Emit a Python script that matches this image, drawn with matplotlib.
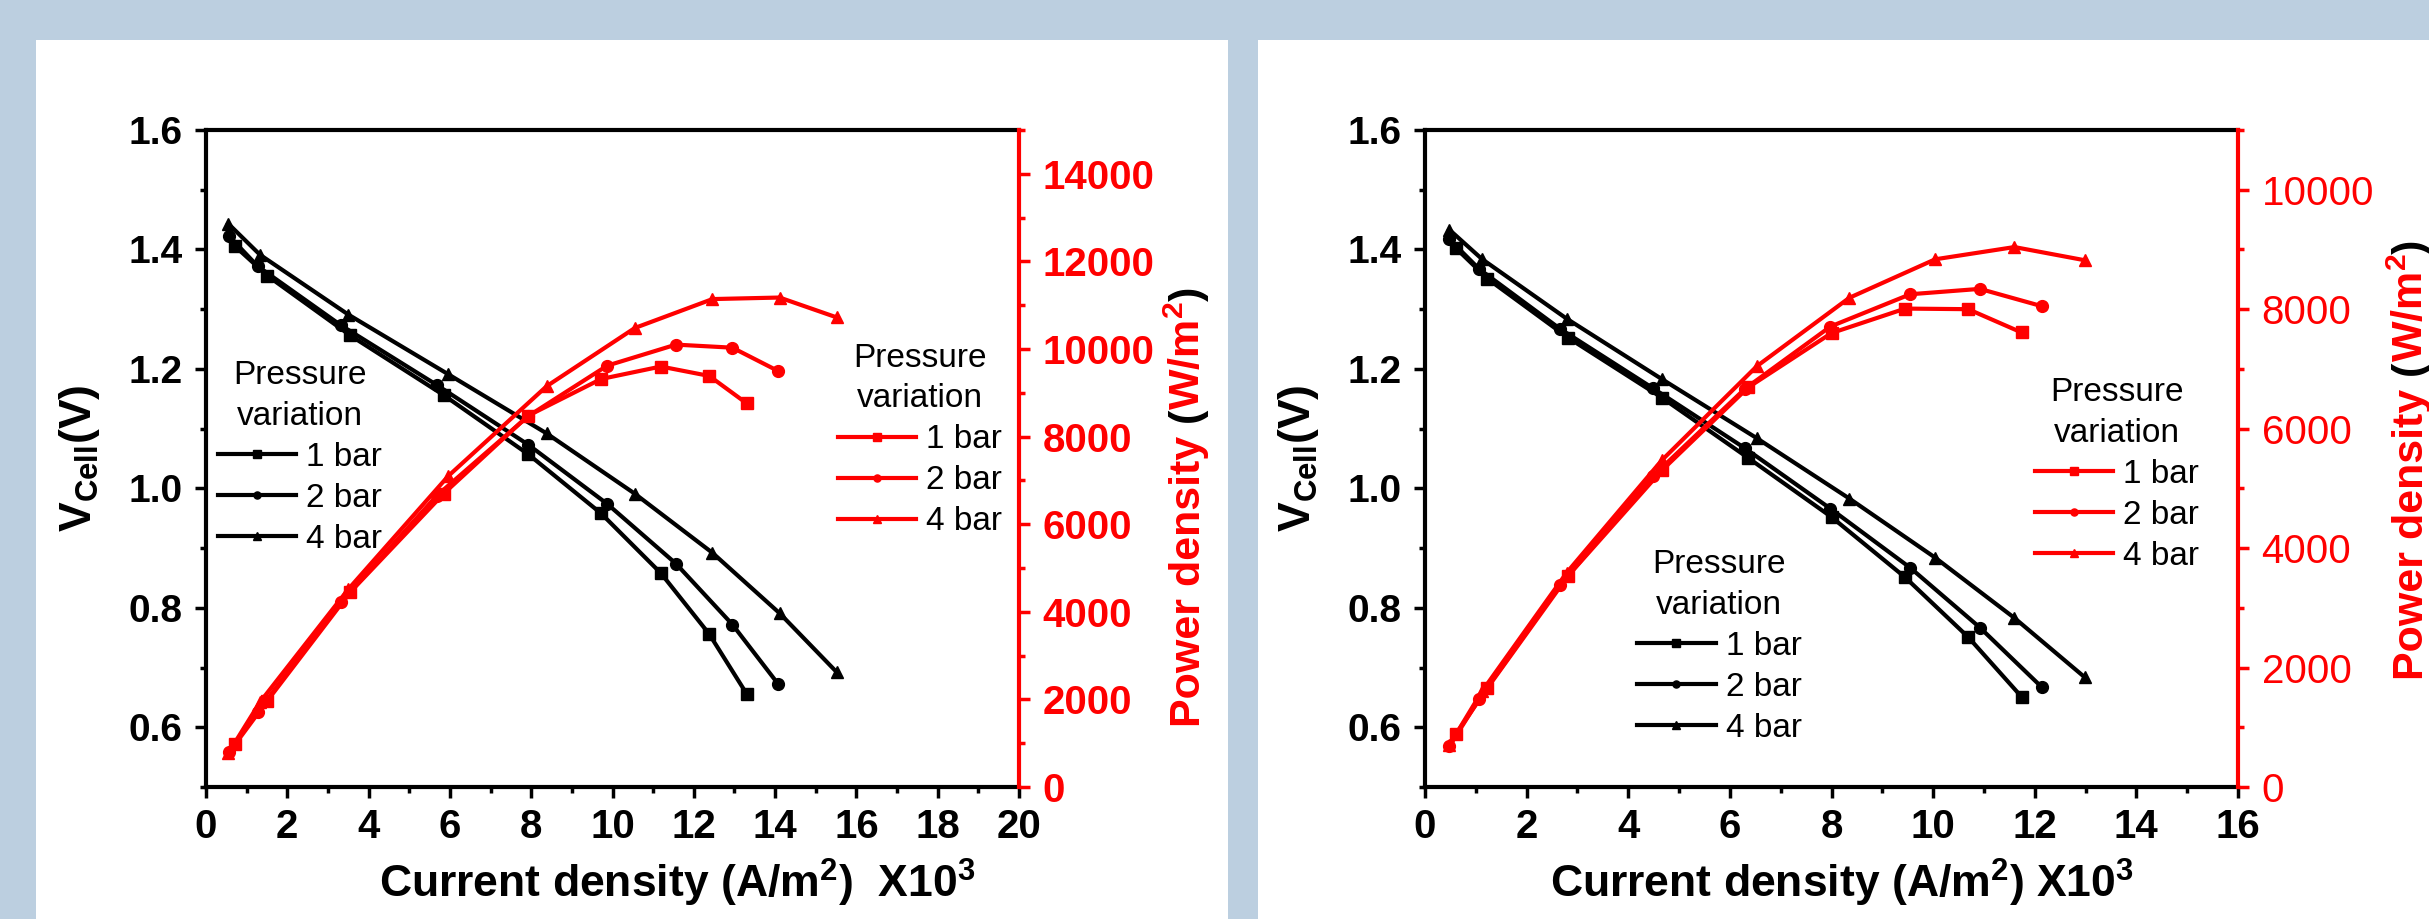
import matplotlib

matplotlib.use("Agg")
import matplotlib.pyplot as plt
from matplotlib.patches import Rectangle
from matplotlib.ticker import MultipleLocator
from matplotlib.transforms import IdentityTransform

plt.rcParams["font.family"] = ["Liberation Sans", "DejaVu Sans"]
plt.rcParams["mathtext.fontset"] = "custom"
plt.rcParams["mathtext.rm"] = "Liberation Sans"
plt.rcParams["mathtext.bf"] = "Liberation Sans:bold"
plt.rcParams["mathtext.it"] = "Liberation Sans:italic"

# ---- data (current density in 10^3 A/m2) ----
labels = ["1 bar", "2 bar", "4 bar"]
markers = ["s", "o", "^"]

# left panel
cur_1_left = [0.72, 1.51, 3.55, 5.85, 7.93, 9.72, 11.19, 12.38, 13.30]
cur_2_left = [0.56, 1.27, 3.32, 5.68, 7.93, 9.87, 11.56, 12.95, 14.08]
cur_4_left = [0.55, 1.33, 3.50, 5.96, 8.38, 10.55, 12.46, 14.11, 15.52]
volt_1_left = [1.405, 1.356, 1.256, 1.156, 1.057, 0.958, 0.858, 0.756, 0.656]
volt_2_left = [1.423, 1.372, 1.273, 1.173, 1.073, 0.974, 0.874, 0.772, 0.672]
volt_4_left = [1.443, 1.391, 1.291, 1.191, 1.092, 0.991, 0.892, 0.791, 0.692]
pow_1_left = [980, 1970, 4450, 6700, 8480, 9315, 9600, 9385, 8760]
pow_2_left = [800, 1715, 4220, 6655, 8470, 9620, 10100, 10030, 9495]
pow_4_left = [775, 1940, 4515, 7100, 9150, 10480, 11140, 11175, 10720]

# right panel
cur_1_right = [0.61, 1.23, 2.82, 4.66, 6.36, 8.00, 9.45, 10.69, 11.74]
cur_2_right = [0.48, 1.07, 2.66, 4.48, 6.30, 7.98, 9.55, 10.92, 12.14]
cur_4_right = [0.48, 1.12, 2.79, 4.66, 6.53, 8.35, 10.04, 11.60, 12.98]
volt_1_right = [1.402, 1.351, 1.252, 1.152, 1.051, 0.952, 0.851, 0.751, 0.651]
volt_2_right = [1.417, 1.367, 1.267, 1.168, 1.067, 0.966, 0.867, 0.767, 0.667]
volt_4_right = [1.433, 1.384, 1.284, 1.183, 1.084, 0.983, 0.884, 0.783, 0.684]
pow_1_right = [890, 1660, 3540, 5300, 6690, 7600, 8010, 8000, 7610]
pow_2_right = [680, 1480, 3380, 5200, 6670, 7710, 8250, 8340, 8050]
pow_4_right = [700, 1600, 3590, 5470, 7045, 8190, 8835, 9040, 8820]

BG = "#bccfe0"
RED = "#ff0000"
W, H = 2429, 919

fig = plt.figure(figsize=(W / 100, H / 100), dpi=100, facecolor=BG)
for x0, x1 in [(36, 1228), (1258, 2429)]:
    fig.patches.append(
        Rectangle((x0 / W, 0), (x1 - x0) / W, (H - 40) / H, transform=fig.transFigure,
                  facecolor="white", edgecolor="none", zorder=-5)
    )


def power_label(x_px, y_px, size):
    renderer = fig.canvas.get_renderer()
    pieces = [("Power density", RED), (" (", "black"), (r"W/m$^\mathbf{2}$", RED), (")", "black")]
    y = y_px
    for s, c in pieces:
        t = fig.text(x_px, y, s, color=c, fontsize=size, fontweight="bold", rotation=90,
                     rotation_mode="anchor", ha="left", va="baseline", transform=IdentityTransform())
        y += t.get_window_extent(renderer).height


def draw_panel(left_px, currents, volts, powers, xmax, pmax, right_bold, xlabel, xlabel_x,
               leg_black, leg_red, plabel_pos):
    ax = fig.add_axes([left_px / W, 1 - 787 / H, 813 / W, 657 / H])
    ax2 = ax.twinx()

    for i, v, m, lab in zip(currents, volts, markers, labels):
        ax.plot(i, v, color="black", marker=m, ms=8.5, lw=3, label=lab)
    for i, p, m, lab in zip(currents, powers, markers, labels):
        ax2.plot(i, p, color=RED, marker=m, ms=8.5, lw=3, label=lab)

    ax.set_xlim(0, xmax)
    ax.set_ylim(0.5, 1.6)
    ax2.set_ylim(0, pmax)
    ax.xaxis.set_major_locator(MultipleLocator(2))
    ax.xaxis.set_minor_locator(MultipleLocator(1))
    ax.yaxis.set_major_locator(MultipleLocator(0.2))
    ax.yaxis.set_minor_locator(MultipleLocator(0.1))
    ax2.yaxis.set_major_locator(MultipleLocator(2000))
    ax2.yaxis.set_minor_locator(MultipleLocator(1000))

    for side in ["left", "bottom", "top"]:
        ax.spines[side].set_linewidth(3)
        ax2.spines[side].set_visible(False)
    ax.spines["right"].set_visible(False)
    ax2.spines["right"].set_linewidth(3)
    ax2.spines["right"].set_color(RED)

    ax.tick_params(which="major", length=8, width=2.5, direction="out", pad=7, labelsize=29)
    ax.tick_params(which="minor", length=4.5, width=2.5, direction="out")
    ax.tick_params(axis="y", pad=9, labelsize=28)
    ax.tick_params(top=False, right=False, which="both")
    ax2.tick_params(which="major", length=8, width=2.5, direction="out", pad=9, labelsize=29,
                    colors=RED)
    ax2.tick_params(which="minor", length=4.5, width=2.5, direction="out", colors=RED)
    for lbl in ax.get_xticklabels() + ax.get_yticklabels():
        lbl.set_fontweight("bold")
    for lbl in ax2.get_yticklabels():
        lbl.set_fontweight("bold" if right_bold else "normal")

    ax.set_ylabel(r"V$_\mathbf{Cell}$(V)", fontsize=32, fontweight="bold")
    ax.yaxis.set_label_coords(-0.128, 0.5)
    ax.text(xlabel_x, -0.168, xlabel, transform=ax.transAxes, ha="center", va="baseline",
            fontsize=32, fontweight="bold")

    for a, pos in [(ax, leg_black), (ax2, leg_red)]:
        leg = a.legend(loc="upper left", bbox_to_anchor=pos, title="Pressure\nvariation",
                       frameon=False, fontsize=24, title_fontsize=24, handlelength=2.35,
                       handletextpad=0.3, labelspacing=0.3, borderpad=0, borderaxespad=0,
                       markerscale=0.6)
        leg.get_title().set_multialignment("center")
        leg.get_title().set_linespacing(1.4)

    power_label(*plabel_pos, size=31)


draw_panel(206, [cur_1_left, cur_2_left, cur_4_left],
           [volt_1_left, volt_2_left, volt_4_left],
           [pow_1_left, pow_2_left, pow_4_left],
           20, 15000, True, r"Current density (A/m$^\mathbf{2}$)  X10$^\mathbf{3}$", 0.579,
           (0.0148, 0.650), (0.777, 0.676), (1200, H - 727))
draw_panel(1425, [cur_1_right, cur_2_right, cur_4_right],
           [volt_1_right, volt_2_right, volt_4_right],
           [pow_1_right, pow_2_right, pow_4_right],
           16, 11000, False, r"Current density (A/m$^\mathbf{2}$) X10$^\mathbf{3}$", 0.513,
           (0.261, 0.362), (0.750, 0.624), (2423, H - 680))

fig.savefig("out.png", dpi=100, facecolor=BG)
